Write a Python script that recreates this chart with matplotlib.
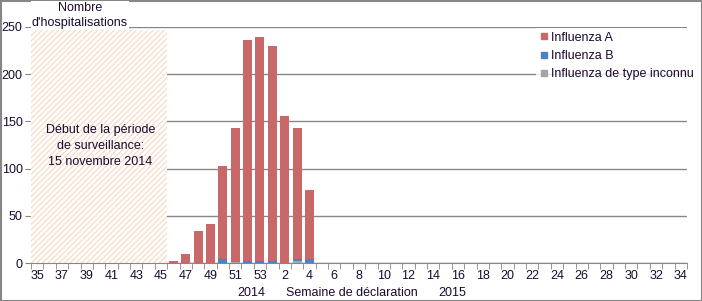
import numpy as np
import matplotlib.pyplot as plt
from matplotlib.patches import Rectangle
from matplotlib.lines import Line2D

plt.rcParams['font.family'] = ['Liberation Sans', 'DejaVu Sans']
plt.rcParams['hatch.linewidth'] = 0.8

# weeks 35-53 of 2014, then 1-34 of 2015
weeks = list(range(35, 54)) + list(range(1, 35))
flu_a = [0]*11 + [2, 10, 34, 41, 99, 142, 234, 237, 228, 156, 139, 73] + [0]*30
flu_b = [0]*11 + [0, 0, 0, 0, 4, 0, 2, 2, 2, 0, 2, 4] + [0]*30
flu_unk = [0]*11 + [0, 0, 0, 0, 0, 1, 0, 0, 0, 0, 2, 0] + [0]*30

c_a = '#C96868'
c_b = '#4F81BD'
c_u = '#A5A5A5'
grid_c = '#868686'
txt_c = '#1a0a30'
fs = 9

fig = plt.figure(figsize=(7.02, 3.01), dpi=100)
ax = fig.add_axes([31/702, 1-263/301, 656/702, 236/301])

x = np.arange(len(weeks))
a = np.array(flu_a)
b = np.array(flu_b)
u = np.array(flu_unk)
w = 0.73
ax.bar(x, u, w, color=c_u, zorder=3)
ax.bar(x, b, w, bottom=u, color=c_b, zorder=3)
ax.bar(x, a, w, bottom=u+b, color=c_a, zorder=3)

# surveillance period not started
ax.add_patch(Rectangle((-0.5, 0), 10.98, 247, facecolor='white', edgecolor='#FAD7BE',
                       hatch='//////', linewidth=0, zorder=2))
ax.text(5.1, 124, "Début de la période\nde surveillance:\n15 novembre 2014", ha='center', va='center',
        fontsize=fs, color=txt_c, zorder=4, linespacing=1.45)

ax.set_xlim(-0.5, len(weeks)-0.5)
ax.set_ylim(0, 250)
ax.set_yticks([0, 50, 100, 150, 200, 250])
ax.yaxis.grid(True, color=grid_c, linewidth=1)
ax.set_axisbelow(True)
for s in ['top', 'right', 'left']:
    ax.spines[s].set_visible(False)
ax.spines['bottom'].set_color(grid_c)
ax.tick_params(axis='y', colors=grid_c, labelcolor=txt_c, labelsize=fs, length=4, pad=2)

ax.set_xticks(x[::2])
ax.set_xticklabels([str(wk) for wk in weeks[::2]])
ax.set_xticks(np.arange(-0.5, len(weeks)), minor=True)
ax.tick_params(axis='x', which='major', length=0, labelsize=fs, labelcolor=txt_c, pad=5)
ax.tick_params(axis='x', which='minor', length=4, color=grid_c)

fig.text(251/702, 1-293/301, "2014", ha='center', va='center', fontsize=fs, color=txt_c)
fig.text(352/702, 1-293/301, "Semaine de déclaration", ha='center', va='center', fontsize=fs, color=txt_c)
fig.text(452/702, 1-293/301, "2015", ha='center', va='center', fontsize=fs, color=txt_c)

fig.text(80/702, 1-15.5/301, "Nombre\nd'hospitalisations", ha='center', va='center', fontsize=fs,
         color=txt_c, linespacing=1.35,
         bbox=dict(facecolor='white', edgecolor='none', pad=1))

handles = [Line2D([], [], marker='s', linestyle='none', markersize=5, color=c)
           for c in [c_a, c_b, c_u]]
leg = fig.legend(handles, ['Influenza A', 'Influenza B', 'Influenza de type inconnu'],
                 loc='upper left', bbox_to_anchor=(536/702, 1-28/301), frameon=True,
                 fontsize=fs, handlelength=0.6, handletextpad=0.3, labelspacing=0.5,
                 borderpad=0.3, borderaxespad=0, labelcolor=txt_c)
leg.get_frame().set_facecolor('white')
leg.get_frame().set_edgecolor('none')
leg.get_frame().set_boxstyle('square', pad=0)

fig.patches.append(Rectangle((0.5/702, 0.5/301), 1-1/702, 1-1/301, transform=fig.transFigure,
                             fill=False, edgecolor=grid_c, linewidth=1.5))

plt.savefig('out.png', dpi=100)
